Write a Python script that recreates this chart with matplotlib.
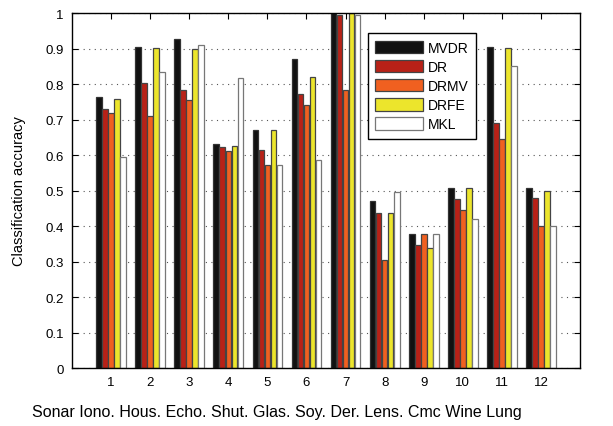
import matplotlib
matplotlib.use("Agg")
import matplotlib.pyplot as plt
import numpy as np

plt.rcParams['font.family'] = ['Liberation Sans', 'DejaVu Sans']

groups = list(range(1, 13))
datasets = ["Sonar", "Iono.", "Hous.", "Echo.", "Shut.", "Glas.", "Soy.", "Der.", "Lens.", "Cmc", "Wine", "Lung"]
series = ["MVDR", "DR", "DRMV", "DRFE", "MKL"]
mvdr = [0.764, 0.905, 0.927, 0.630, 0.671, 0.870, 1.000, 0.471, 0.377, 0.506, 0.905, 0.506]
dr   = [0.729, 0.803, 0.782, 0.623, 0.614, 0.773, 0.994, 0.436, 0.346, 0.477, 0.689, 0.480]
drmv = [0.717, 0.710, 0.756, 0.612, 0.572, 0.740, 0.783, 0.305, 0.377, 0.445, 0.644, 0.399]
drfe = [0.758, 0.901, 0.898, 0.625, 0.671, 0.819, 1.000, 0.436, 0.337, 0.507, 0.901, 0.500]
mkl  = [0.594, 0.833, 0.909, 0.818, 0.572, 0.585, 0.995, 0.497, 0.377, 0.419, 0.850, 0.399]
values = [mvdr, dr, drmv, drfe, mkl]
colors = ["#111111", "#b82117", "#f06020", "#ece52c", "#ffffff"]
edges = ["#333333", "#444444", "#444444", "#444444", "#777777"]
yticks = [0, 0.1, 0.2, 0.3, 0.4, 0.5, 0.6, 0.7, 0.8, 0.9, 1]
ytick_labels = ["0", "0.1", "0.2", "0.3", "0.4", "0.5", "0.6", "0.7", "0.8", "0.9", "1"]

fig = plt.figure(figsize=(6.13, 4.27), dpi=100)
ax = fig.add_axes([0.1175, 0.1358, 0.8287, 0.8314])

x = np.array(groups, dtype=float)
slot = 0.154
bw = 0.145
for i, (name, vals) in enumerate(zip(series, values)):
    ax.bar(x + (i - 2) * slot, vals, width=bw, color=colors[i], edgecolor=edges[i],
           linewidth=0.9, label=name, zorder=3)

ax.set_xlim(0, 13)
ax.set_ylim(0, 1)
ax.set_xticks(groups)
ax.set_xticklabels([str(g) for g in groups], fontsize=9.5)
ax.set_yticks(yticks)
ax.set_yticklabels(ytick_labels, fontsize=9.5)
ax.tick_params(direction='in', top=True, right=True, length=4, width=0.8, pad=6)
ax.yaxis.grid(True, linestyle=(0, (1, 4)), color='#555555', linewidth=0.8, zorder=0)
for s in ax.spines.values():
    s.set_linewidth(1.0)
    s.set_zorder(5)

ax.set_ylabel("Classification accuracy", fontsize=10.5, labelpad=14)
fig.text(0.452, 0.033, " ".join(datasets), fontsize=11.5, ha='center', va='center')

leg = ax.legend(loc='upper left', bbox_to_anchor=(0.582, 0.944), fontsize=10,
                frameon=True, fancybox=False, edgecolor='black', framealpha=1,
                handlelength=3.4, handleheight=1.05, handletextpad=0.4,
                labelspacing=0.35, borderpad=0.55, borderaxespad=0)
leg.get_frame().set_linewidth(1.0)

fig.savefig("out.png", dpi=100)
